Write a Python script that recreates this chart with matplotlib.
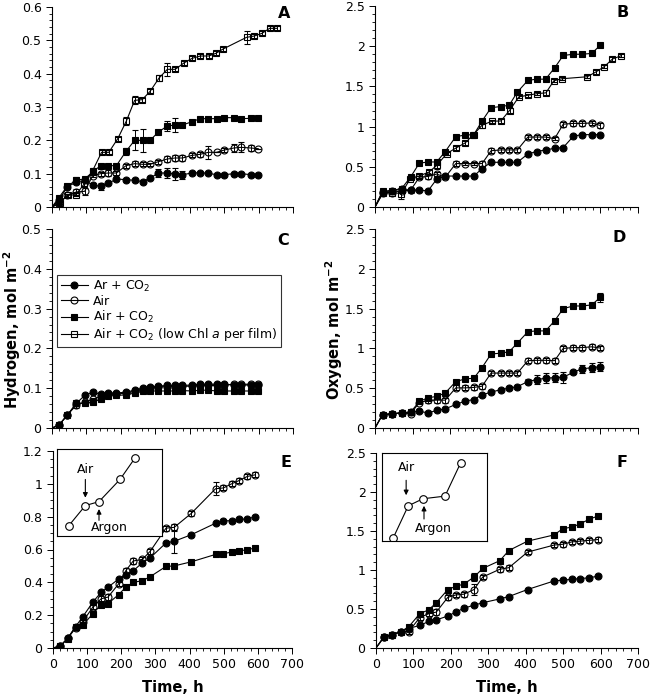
import numpy as np
import matplotlib
matplotlib.use('Agg')
import matplotlib.pyplot as plt
from matplotlib.lines import Line2D
from matplotlib.ticker import MultipleLocator, AutoMinorLocator, FormatStrFormatter

plt.rcParams['font.family'] = ['DejaVu Sans']

# sampling times (h)
t = [20, 44, 71, 95, 118, 141, 164, 187, 215, 240, 263, 285, 309, 335, 357, 379, 407, 430, 454, 478, 501, 528, 550, 577, 599]
t_low = [22, 46, 70, 94, 118, 144, 165, 191, 216, 240, 262, 285, 311, 335, 358, 383, 407, 431, 455, 476, 497, 565, 588, 610, 632, 654]
t_ef = [21, 43, 66, 87, 117, 141, 161, 192, 213, 235, 262, 285, 331, 355, 405, 476, 499, 523, 545, 569, 592]

# A - hydrogen
a_arco2 = [0.02, 0.06, 0.075, 0.08, 0.066, 0.062, 0.071, 0.084, 0.082, 0.080, 0.076, 0.087, 0.102, 0.102, 0.099, 0.097, 0.102, 0.103, 0.101, 0.097, 0.097, 0.1, 0.1, 0.097, 0.097]
a_arco2_err = [0, 0, 0, 0, 0.005, 0.01, 0, 0, 0, 0, 0, 0, 0.012, 0.015, 0.017, 0.012, 0, 0, 0, 0, 0, 0, 0, 0, 0]
a_air = [0.01, 0.035, 0.045, 0.047, 0.094, 0.1, 0.102, 0.102, 0.124, 0.13, 0.128, 0.128, 0.136, 0.144, 0.147, 0.147, 0.155, 0.158, 0.164, 0.164, 0.171, 0.177, 0.179, 0.177, 0.175]
a_air_err = [0.003, 0.005, 0.01, 0.01, 0.005, 0.006, 0.008, 0.006, 0.006, 0.008, 0.006, 0.005, 0.006, 0.008, 0.01, 0.008, 0.006, 0.008, 0.02, 0, 0.006, 0.013, 0.015, 0.01, 0]
a_aco2 = [0.028, 0.062, 0.081, 0.084, 0.105, 0.124, 0.124, 0.124, 0.167, 0.2, 0.2, 0.2, 0.225, 0.243, 0.246, 0.246, 0.256, 0.265, 0.265, 0.265, 0.268, 0.268, 0.265, 0.266, 0.266]
a_aco2_err = [0, 0, 0.008, 0, 0, 0, 0, 0, 0.01, 0.03, 0.035, 0, 0, 0.015, 0.02, 0, 0, 0, 0, 0, 0, 0, 0, 0, 0]
a_low = [0.013, 0.035, 0.037, 0.07, 0.109, 0.164, 0.164, 0.205, 0.258, 0.32, 0.322, 0.347, 0.387, 0.413, 0.413, 0.432, 0.446, 0.453, 0.453, 0.461, 0.474, 0.509, 0.513, 0.521, 0.536, 0.536]
a_low_err = [0.005, 0.005, 0.005, 0.008, 0.008, 0.006, 0.006, 0.006, 0.013, 0.012, 0.006, 0.006, 0.01, 0.02, 0.006, 0.006, 0.006, 0.006, 0.006, 0.006, 0.006, 0.02, 0.006, 0.006, 0.006, 0.006]

# B - oxygen
b_arco2 = [0.19, 0.2, 0.22, 0.21, 0.21, 0.2, 0.345, 0.385, 0.385, 0.385, 0.385, 0.478, 0.556, 0.556, 0.556, 0.556, 0.66, 0.69, 0.71, 0.73, 0.74, 0.88, 0.9, 0.9, 0.9]
b_air = [0.17, 0.18, 0.2, 0.21, 0.37, 0.38, 0.41, 0.37, 0.54, 0.54, 0.54, 0.54, 0.70, 0.71, 0.71, 0.71, 0.87, 0.87, 0.87, 0.85, 1.03, 1.04, 1.04, 1.045, 1.015]
b_air_err = [0.01, 0.01, 0.02, 0.03, 0.02, 0.03, 0.03, 0.02, 0.03, 0.02, 0.02, 0.03, 0.03, 0.03, 0.03, 0.03, 0.03, 0.03, 0.03, 0.02, 0.03, 0.03, 0.03, 0.03, 0.03]
b_aco2 = [0.195, 0.205, 0.23, 0.375, 0.545, 0.56, 0.56, 0.69, 0.875, 0.895, 0.9, 1.07, 1.235, 1.25, 1.265, 1.43, 1.575, 1.59, 1.59, 1.73, 1.885, 1.9, 1.9, 1.91, 2.01]
b_low = [0.178, 0.18, 0.166, 0.353, 0.386, 0.436, 0.52, 0.665, 0.735, 0.797, 0.9, 1.017, 1.067, 1.07, 1.2, 1.37, 1.39, 1.41, 1.42, 1.57, 1.595, 1.62, 1.68, 1.745, 1.84, 1.88]
b_low_err = [0.01, 0.01, 0.07, 0.02, 0.02, 0.03, 0.05, 0.02, 0.02, 0.03, 0.02, 0.03, 0.02, 0.02, 0.03, 0.02, 0.02, 0.02, 0.03, 0.02, 0.02, 0.02, 0.02, 0.02, 0.02, 0.02]

# C - hydrogen
c_arco2 = [0.007, 0.032, 0.062, 0.082, 0.09, 0.085, 0.088, 0.088, 0.09, 0.095, 0.1, 0.103, 0.105, 0.107, 0.107, 0.107, 0.108, 0.11, 0.11, 0.11, 0.11, 0.108, 0.108, 0.108, 0.108]
c_air = [0.007, 0.032, 0.058, 0.065, 0.072, 0.08, 0.085, 0.085, 0.088, 0.092, 0.097, 0.1, 0.103, 0.104, 0.104, 0.105, 0.105, 0.107, 0.107, 0.107, 0.108, 0.11, 0.11, 0.11, 0.11]
c_air_err = [0.002, 0.003, 0.008, 0.004, 0.004, 0.004, 0.004, 0.004, 0.004, 0.004, 0.004, 0.004, 0.004, 0.004, 0.004, 0.004, 0.004, 0.004, 0.004, 0.004, 0.004, 0.004, 0.004, 0.004, 0.004]
c_aco2 = [0.007, 0.032, 0.062, 0.062, 0.065, 0.072, 0.08, 0.082, 0.083, 0.088, 0.092, 0.093, 0.093, 0.093, 0.093, 0.094, 0.093, 0.095, 0.095, 0.093, 0.093, 0.093, 0.093, 0.093, 0.093]

# D - oxygen
d_arco2 = [0.167, 0.179, 0.19, 0.2, 0.21, 0.19, 0.22, 0.24, 0.296, 0.338, 0.358, 0.417, 0.45, 0.483, 0.5, 0.52, 0.583, 0.608, 0.625, 0.633, 0.638, 0.7, 0.742, 0.758, 0.77]
d_arco2_err = [0, 0, 0, 0, 0, 0, 0, 0, 0, 0, 0, 0, 0, 0, 0, 0, 0.03, 0.06, 0.06, 0.06, 0.07, 0.02, 0.05, 0.06, 0.06]
d_air = [0.167, 0.179, 0.19, 0.18, 0.32, 0.346, 0.35, 0.35, 0.504, 0.504, 0.51, 0.525, 0.69, 0.69, 0.69, 0.69, 0.846, 0.85, 0.85, 0.846, 1.0, 1.01, 1.01, 1.02, 1.005]
d_air_err = [0.01, 0.01, 0.01, 0.02, 0.02, 0.03, 0.03, 0.03, 0.03, 0.03, 0.03, 0.03, 0.03, 0.03, 0.03, 0.03, 0.03, 0.03, 0.03, 0.03, 0.03, 0.03, 0.03, 0.03, 0.03]
d_aco2 = [0.167, 0.179, 0.19, 0.2, 0.333, 0.38, 0.396, 0.44, 0.583, 0.617, 0.625, 0.76, 0.93, 0.94, 0.958, 1.067, 1.21, 1.22, 1.22, 1.346, 1.5, 1.533, 1.533, 1.546, 1.64]
d_aco2_err = [0, 0, 0, 0, 0, 0, 0, 0, 0, 0, 0, 0, 0, 0, 0, 0, 0, 0, 0, 0, 0, 0, 0, 0, 0.06]

# E - hydrogen
e_arco2 = [0.01, 0.06, 0.13, 0.19, 0.28, 0.34, 0.37, 0.42, 0.445, 0.47, 0.52, 0.55, 0.64, 0.65, 0.69, 0.76, 0.775, 0.775, 0.785, 0.785, 0.80]
e_arco2_err = [0, 0, 0, 0, 0, 0, 0, 0, 0, 0, 0, 0, 0, 0.07, 0, 0, 0, 0, 0, 0, 0]
e_air = [0.01, 0.06, 0.12, 0.16, 0.25, 0.30, 0.31, 0.39, 0.47, 0.53, 0.54, 0.59, 0.73, 0.735, 0.82, 0.97, 0.975, 1.0, 1.02, 1.045, 1.055]
e_air_err = [0.005, 0.01, 0.01, 0.01, 0.01, 0.015, 0.02, 0.015, 0.02, 0.02, 0.015, 0.015, 0.015, 0.02, 0.015, 0.04, 0.015, 0.015, 0.015, 0.015, 0.015]
e_aco2 = [0.014, 0.057, 0.13, 0.138, 0.21, 0.264, 0.27, 0.325, 0.37, 0.40, 0.41, 0.435, 0.497, 0.50, 0.525, 0.57, 0.575, 0.584, 0.59, 0.60, 0.608]

# F - oxygen
f_arco2 = [0.14, 0.17, 0.21, 0.25, 0.29, 0.34, 0.36, 0.41, 0.46, 0.51, 0.55, 0.58, 0.63, 0.66, 0.75, 0.86, 0.87, 0.88, 0.89, 0.90, 0.92]
f_air = [0.14, 0.17, 0.21, 0.21, 0.39, 0.44, 0.46, 0.65, 0.68, 0.69, 0.75, 0.91, 1.01, 1.03, 1.23, 1.32, 1.33, 1.36, 1.37, 1.38, 1.39]
f_air_err = [0.01, 0.01, 0.02, 0.03, 0.03, 0.03, 0.04, 0.03, 0.03, 0.03, 0.07, 0.03, 0.03, 0.03, 0.03, 0.03, 0.03, 0.03, 0.03, 0.03, 0.03]
f_aco2 = [0.14, 0.17, 0.21, 0.27, 0.44, 0.49, 0.58, 0.75, 0.79, 0.82, 0.91, 1.02, 1.12, 1.25, 1.37, 1.45, 1.53, 1.55, 1.59, 1.65, 1.69]
f_aco2_err = [0, 0, 0, 0, 0, 0, 0, 0, 0, 0, 0.05, 0, 0, 0, 0, 0, 0, 0, 0, 0, 0]

# insets (relative units)
ins_e_x = [0.11, 0.27, 0.40, 0.60, 0.745]
ins_e_y = [0.115, 0.35, 0.395, 0.65, 0.90]
ins_f_x = [0.105, 0.25, 0.39, 0.60, 0.75]
ins_f_y = [0.03, 0.40, 0.48, 0.51, 0.89]

labels = ['Ar + CO$_2$', 'Air', 'Air + CO$_2$', 'Air + CO$_2$ (low Chl $a$ per film)']
styles = [('o', 'k'), ('o', 'none'), ('s', 'k'), ('s', 'none')]
MS = 5


def draw(ax, x, y, err, k):
    ax.plot([0] + x, [0] + y, color='k', lw=0.8, zorder=2)
    mk, fc = styles[k]
    ax.errorbar(x, y, yerr=err, fmt=mk, ms=MS, mfc=fc, mec='k', mew=0.8,
                ecolor='k', elinewidth=0.7, capsize=2.2, capthick=0.7, zorder=3)


fig = plt.figure(figsize=(6.5, 6.96), dpi=100)
W, H = 650, 696


def add(x0, y0, x1, y1):
    return fig.add_axes([x0 / W, 1 - y1 / H, (x1 - x0) / W, (y1 - y0) / H])


axA = add(52, 7, 293, 207)
axB = add(375, 6, 638, 207)
axC = add(52, 229, 293, 428)
axD = add(375, 229, 638, 428)
axE = add(53, 451, 292, 648)
axF = add(376, 453, 638, 648)

draw(axA, t, a_arco2, a_arco2_err, 0)
draw(axA, t, a_air, a_air_err, 1)
draw(axA, t, a_aco2, a_aco2_err, 2)
draw(axA, t_low, a_low, a_low_err, 3)

draw(axB, t, b_arco2, None, 0)
draw(axB, t, b_air, b_air_err, 1)
draw(axB, t, b_aco2, None, 2)
draw(axB, t_low, b_low, b_low_err, 3)

draw(axC, t, c_arco2, None, 0)
draw(axC, t, c_air, c_air_err, 1)
draw(axC, t, c_aco2, None, 2)

draw(axD, t, d_arco2, d_arco2_err, 0)
draw(axD, t, d_air, d_air_err, 1)
draw(axD, t, d_aco2, d_aco2_err, 2)

draw(axE, t_ef, e_arco2, e_arco2_err, 0)
draw(axE, t_ef, e_air, e_air_err, 1)
draw(axE, t_ef, e_aco2, None, 2)

draw(axF, t_ef, f_arco2, None, 0)
draw(axF, t_ef, f_air, f_air_err, 1)
draw(axF, t_ef, f_aco2, f_aco2_err, 2)

setup = [
    (axA, 0.6, 0.1, 5, 'A', (0.965, 0.97)),
    (axB, 2.5, 0.5, 5, 'B', (0.94, 0.97)),
    (axC, 0.5, 0.1, 5, 'C', (0.958, 0.94)),
    (axD, 2.5, 0.5, 5, 'D', (0.93, 0.955)),
    (axE, 1.2, 0.2, 4, 'E', (0.975, 0.94)),
    (axF, 2.5, 0.5, 5, 'F', (0.94, 0.95)),
]
for ax, top, step, nminor, letter, pos in setup:
    ax.set_xlim(0, 700)
    ax.set_ylim(0, top)
    ax.xaxis.set_major_locator(MultipleLocator(100))
    ax.xaxis.set_minor_locator(AutoMinorLocator(5))
    ax.yaxis.set_major_locator(MultipleLocator(step))
    ax.yaxis.set_minor_locator(AutoMinorLocator(nminor))
    ax.yaxis.set_major_formatter(FormatStrFormatter('%g'))
    ax.spines['top'].set_visible(False)
    ax.spines['right'].set_visible(False)
    ax.spines['left'].set_linewidth(0.8)
    ax.spines['bottom'].set_linewidth(0.8)
    ax.tick_params(which='major', direction='out', length=4, width=0.7, labelsize=9)
    ax.tick_params(which='minor', direction='out', length=2, width=0.6)
    ax.text(pos[0], pos[1], letter, transform=ax.transAxes, ha='center', va='center',
            fontsize=11.5, fontweight='bold')

for ax in (axA, axB, axC, axD):
    ax.tick_params(axis='x', labelbottom=False)
for ax in (axE, axF):
    ax.set_xlabel('Time, h', fontsize=10.5, fontweight='bold', labelpad=6)

fig.text(12 / W, 1 - 330 / H, r'Hydrogen, mol m$^{\mathbf{-2}}$', rotation=90,
         ha='center', va='center', fontsize=10.5, fontweight='bold')
fig.text(334 / W, 1 - 330 / H, r'Oxygen, mol m$^{\mathbf{-2}}$', rotation=90,
         ha='center', va='center', fontsize=10.5, fontweight='bold')

handles = [Line2D([], [], color='k', lw=0.8, marker=m, ms=MS, mfc=fc, mec='k', mew=0.8)
           for m, fc in styles]
leg = axC.legend(handles, labels, loc='upper left', bbox_to_anchor=(0.02, 0.77),
                 fontsize=9, frameon=True, fancybox=False, handlelength=2.2,
                 borderpad=0.3, labelspacing=0.1, handletextpad=0.4, borderaxespad=0)
leg.get_frame().set_edgecolor('k')
leg.get_frame().set_linewidth(0.8)


def inset(x0, y0, x1, y1, xs, ys, air_xy, arr_air, argon_xy, arr_argon):
    ia = add(x0, y0, x1, y1)
    ia.plot(xs, ys, color='k', lw=0.8, marker='o', ms=MS + 0.5, mfc='white', mec='k', mew=0.8)
    ia.set_xlim(0, 1)
    ia.set_ylim(0, 1)
    ia.set_xticks([])
    ia.set_yticks([])
    for s in ia.spines.values():
        s.set_linewidth(0.8)
    ia.text(air_xy[0], air_xy[1], 'Air', ha='center', va='center', fontsize=9)
    ia.annotate('', xy=(arr_air[0], arr_air[2]), xytext=(arr_air[0], arr_air[1]),
                arrowprops=dict(arrowstyle='-|>', color='k', lw=0.8, mutation_scale=7,
                                shrinkA=0, shrinkB=0))
    ia.text(argon_xy[0], argon_xy[1], 'Argon', ha='center', va='center', fontsize=9)
    ia.annotate('', xy=(arr_argon[0], arr_argon[2]), xytext=(arr_argon[0], arr_argon[1]),
                arrowprops=dict(arrowstyle='-|>', color='k', lw=0.8, mutation_scale=7,
                                shrinkA=0, shrinkB=0))


inset(57, 449, 162, 536, ins_e_x, ins_e_y, (0.27, 0.77), (0.27, 0.65, 0.44), (0.50, 0.10), (0.40, 0.18, 0.31))
inset(382, 453, 487, 541, ins_f_x, ins_f_y, (0.23, 0.84), (0.23, 0.69, 0.52), (0.49, 0.14), (0.40, 0.25, 0.40))

fig.savefig('out.png', dpi=100)
